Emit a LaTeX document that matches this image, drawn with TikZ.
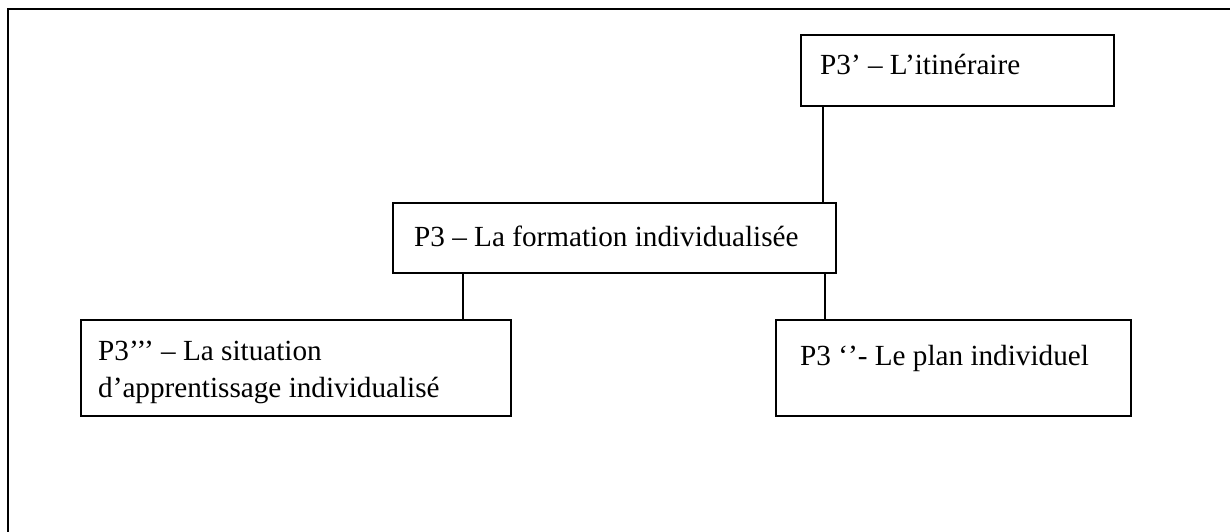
\documentclass[tikz,border=0pt]{standalone}
\usepackage{fontspec}
\setmainfont{Liberation Serif}
\begin{document}
\begin{tikzpicture}[x=1pt,y=-1pt,
  box/.style={draw=black,line width=1.8pt,rectangle,anchor=north west,inner sep=0pt},
  txt/.style={anchor=base west,inner sep=0pt,align=left,font=\fontsize{29.2}{37}\selectfont},
  link/.style={draw=black,line width=1.8pt},
  frame/.style={draw=black,line width=2.2pt}]
\useasboundingbox (0,0) rectangle (1230,532);
\draw[frame] (8,532) -- (8,9) -- (1230,9);
% boxes
\node[box,minimum width=313pt,minimum height=71pt] (itin) at (800,34) {};
\node[box,minimum width=443pt,minimum height=70pt] (form) at (392,202) {};
\node[box,minimum width=430pt,minimum height=96pt] (sit) at (80,319) {};
\node[box,minimum width=355pt,minimum height=96pt] (plan) at (775,319) {};
% texts
\node[txt] (itint) at (820,75) {P3’ – L’itinéraire};
\node[txt] (formt) at (414,246) {P3 – La formation individualisée};
\node[txt] (sitt) at (98,397) {P3’’’ – La situation\\d’apprentissage individualisé};
\node[txt] (plant) at (800,365) {P3 ‘’- Le plan individuel};
% connectors
\draw[link] ([xshift=23pt]itin.south west) -- ([xshift=23pt]itin.south west |- form.north);
\draw[link] ([xshift=71pt]form.south west) -- ([xshift=71pt]form.south west |- sit.north);
\draw[link] ([xshift=-12pt]form.south east) -- ([xshift=-12pt]form.south east |- plan.north);
\end{tikzpicture}
\end{document}
